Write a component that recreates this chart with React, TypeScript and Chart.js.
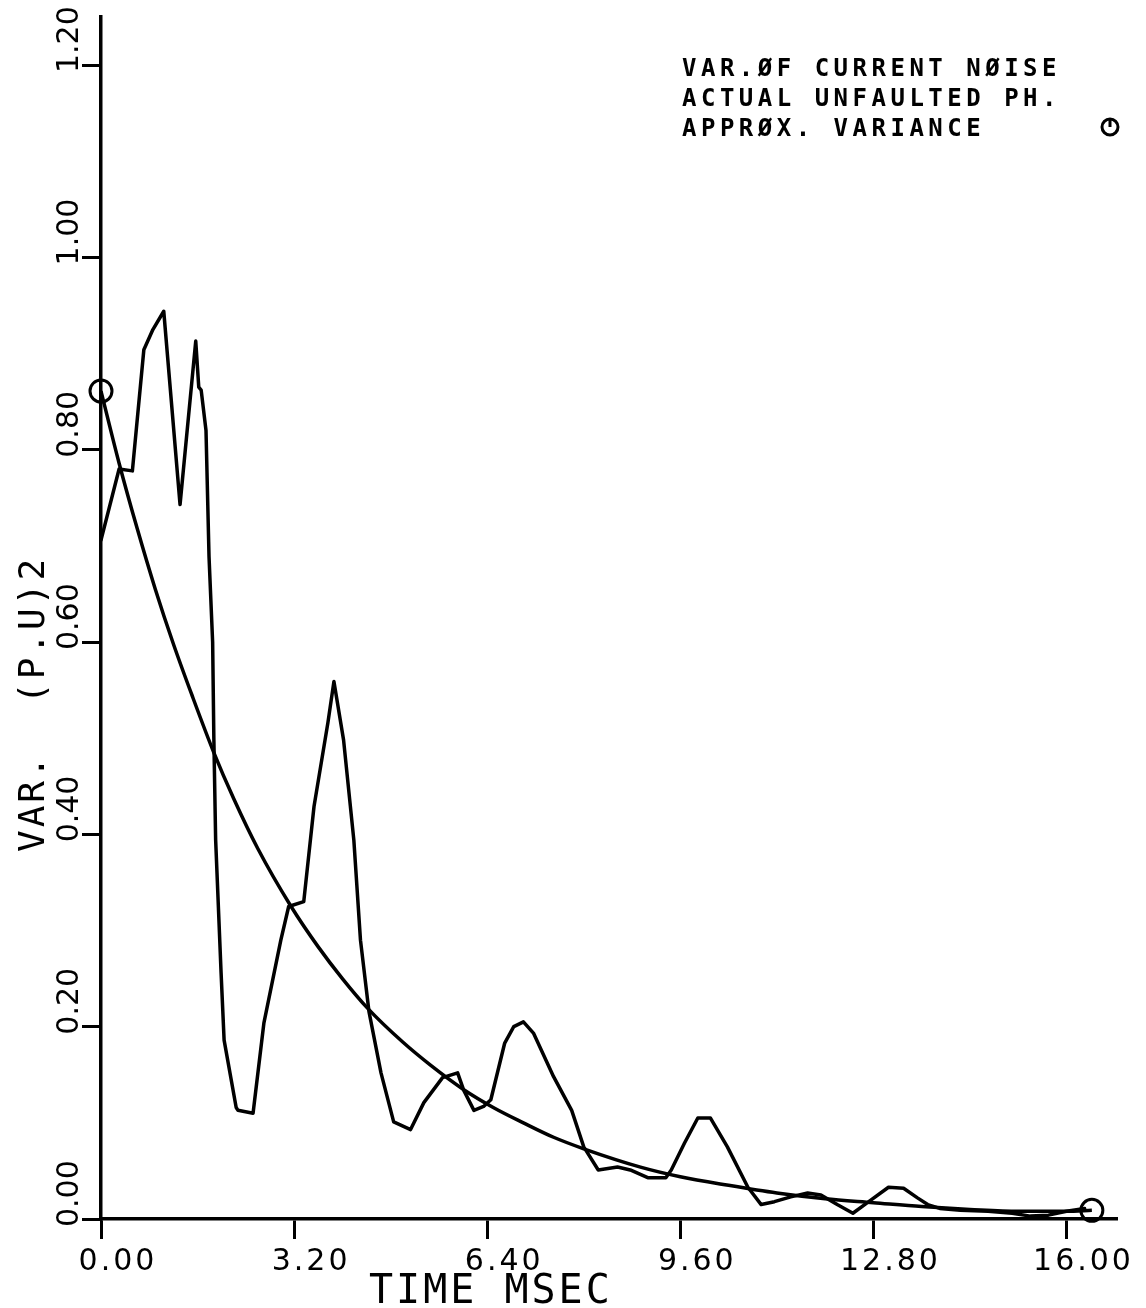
import React, { useEffect, useRef } from "react";
import { Chart, registerables } from "chart.js";

Chart.register(...registerables);

// ---- axis ticks ----
const xTickValues = [0, 3.2, 6.4, 9.6, 12.8, 16.0];
const xTickLabels = ["0.00", "3.20", "6.40", "9.60", "12.80", "16.00"];
const yTickValues = [0, 0.2, 0.4, 0.6, 0.8, 1.0, 1.2];
const yTickLabels = ["0.00", "0.20", "0.40", "0.60", "0.80", "1.00", "1.20"];

// ---- actual unfaulted phase (jagged curve) ----
const actualTime = [
  0.0, 0.3, 0.52, 0.71, 0.86, 1.04, 1.31, 1.57, 1.62, 1.66, 1.74, 1.79, 1.85, 1.87, 1.9,
  1.99, 2.04, 2.24, 2.27, 2.52, 2.7, 2.98, 3.11, 3.36, 3.53, 3.76, 3.86, 4.02, 4.19,
  4.3, 4.44, 4.64, 4.85, 5.13, 5.35, 5.66, 5.91, 6.01, 6.18, 6.34, 6.46, 6.69, 6.84,
  7.0, 7.17, 7.5, 7.8, 8.0, 8.24, 8.56, 8.77, 9.06, 9.36, 9.45, 9.67, 9.89, 10.1,
  10.38, 10.72, 10.94, 11.16, 11.43, 11.71, 11.93, 12.2, 12.46, 12.7, 13.05, 13.3,
  13.53, 13.7, 13.9, 14.24, 14.7, 15.1, 15.4, 15.7, 16.0, 16.3,
];
const actualVar = [
  0.706, 0.78, 0.778, 0.904, 0.925, 0.944, 0.743, 0.913, 0.865, 0.862, 0.82, 0.689, 0.6,
  0.5, 0.394, 0.256, 0.186, 0.116, 0.113, 0.11, 0.204, 0.29, 0.325, 0.33, 0.429, 0.516,
  0.559, 0.498, 0.394, 0.29, 0.216, 0.152, 0.101, 0.093, 0.121, 0.147, 0.152, 0.134,
  0.113, 0.117, 0.124, 0.183, 0.2, 0.205, 0.193, 0.148, 0.113, 0.075, 0.051, 0.054,
  0.051, 0.043, 0.043, 0.051, 0.079, 0.105, 0.105, 0.075, 0.033, 0.015, 0.018, 0.023,
  0.027, 0.025, 0.015, 0.006, 0.017, 0.033, 0.032, 0.022, 0.015, 0.011, 0.009, 0.008,
  0.006, 0.003, 0.004, 0.008, 0.011,
];

// ---- approximate variance (smooth curve) ----
const approxTime = [
  0.0, 0.3, 0.6, 0.9, 1.2, 1.5, 1.87, 2.2, 2.6, 3.15, 3.6, 4.0, 4.42, 5.0, 5.46, 6.0,
  6.5, 7.0, 7.5, 8.0, 8.94, 9.6, 10.4, 11.2, 12.0, 12.8, 13.6, 14.4, 15.2, 16.0, 16.42,
];
const approxVar = [
  0.861, 0.786, 0.718, 0.655, 0.598, 0.546, 0.485, 0.437, 0.385, 0.325, 0.283, 0.25,
  0.219, 0.184, 0.16, 0.135, 0.116, 0.1, 0.085, 0.073, 0.054, 0.044, 0.035, 0.027,
  0.021, 0.017, 0.013, 0.01, 0.008, 0.008, 0.009,
];

// ---- texts ----
const legendLines = ["VAR.ØF CURRENT NØISE", "ACTUAL UNFAULTED PH.", "APPRØX. VARIANCE"];
const xTitle = "TIME MSEC";
const yTitle = "VAR.  (P.U)2";

const textPlugin = {
  id: "plotterText",
  afterDraw(chart: any) {
    const ctx = chart.ctx as CanvasRenderingContext2D;
    const xs = chart.scales.x;
    const ys = chart.scales.y;
    ctx.save();
    ctx.fillStyle = "#000";
    ctx.strokeStyle = "#000";
    ctx.textBaseline = "alphabetic";

    // x tick labels
    ctx.font = '30px "DejaVu Sans"';
    (ctx as any).letterSpacing = "3px";
    ctx.textAlign = "center";
    xTickValues.forEach((v, i) => {
      ctx.fillText(xTickLabels[i], xs.getPixelForValue(v) + 17, ys.bottom + 51);
    });

    // y tick labels (rotated)
    (ctx as any).letterSpacing = "0px";
    ctx.textAlign = "left";
    yTickValues.forEach((v, i) => {
      const py = ys.getPixelForValue(v);
      ctx.save();
      ctx.translate(78, py + 8);
      ctx.rotate(-Math.PI / 2);
      ctx.fillText(yTickLabels[i], 0, 0);
      ctx.restore();
    });

    // y title
    ctx.font = '36px "DejaVu Sans Mono"';
    (ctx as any).letterSpacing = "3px";
    ctx.save();
    ctx.translate(44, 852);
    ctx.rotate(-Math.PI / 2);
    ctx.fillText(yTitle, 0, 0);
    ctx.restore();

    // x title
    ctx.font = '40px "DejaVu Sans Mono"';
    (ctx as any).letterSpacing = "3px";
    ctx.fillText(xTitle, 369, ys.bottom + 84);

    // legend block
    ctx.font = 'bold 24px "DejaVu Sans Mono"';
    (ctx as any).letterSpacing = "4.5px";
    legendLines.forEach((line, i) => {
      ctx.fillText(line, 682, 76 + i * 30);
    });
    // circle symbol
    ctx.lineWidth = 3;
    ctx.beginPath();
    ctx.arc(1110, 127, 8, 0, Math.PI * 2);
    ctx.stroke();
    ctx.beginPath();
    ctx.moveTo(1110, 119);
    ctx.lineTo(1110, 127);
    ctx.stroke();

    ctx.restore();
  },
};

export default function App() {
  const ref = useRef<HTMLCanvasElement | null>(null);

  useEffect(() => {
    if (!ref.current) return;
    const n = approxTime.length;
    const chart = new Chart(ref.current, {
      type: "line",
      data: {
        datasets: [
          {
            label: "ACTUAL UNFAULTED PH.",
            data: actualTime.map((t, i) => ({ x: t, y: actualVar[i] })),
            borderColor: "#000",
            borderWidth: 3.5,
            pointRadius: 0,
            fill: false,
            tension: 0,
            clip: false as any,
            borderJoinStyle: "round",
            borderCapStyle: "round",
          },
          {
            label: "APPROX. VARIANCE",
            data: approxTime.map((t, i) => ({ x: t, y: approxVar[i] })),
            borderColor: "#000",
            borderWidth: 3.5,
            pointRadius: approxTime.map((_, i) => (i === 0 || i === n - 1 ? 11 : 0)),
            pointBorderWidth: 3,
            pointBorderColor: "#000",
            pointBackgroundColor: "rgba(0,0,0,0)",
            pointStyle: "circle",
            fill: false,
            cubicInterpolationMode: "monotone",
            clip: false as any,
            borderJoinStyle: "round",
          },
        ],
      },
      options: {
        responsive: false,
        animation: false,
        layout: { padding: { left: 82, right: 30, top: 17, bottom: 69 } },
        plugins: {
          legend: { display: false },
          tooltip: { enabled: false },
        },
        scales: {
          x: {
            type: "linear",
            min: 0,
            max: 16.82,
            afterBuildTicks: (s: any) => {
              s.ticks = xTickValues.map((v) => ({ value: v }));
            },
            ticks: { display: false },
            grid: {
              drawOnChartArea: false,
              drawTicks: true,
              tickLength: 20,
              color: "#000",
              tickColor: "#000",
              lineWidth: 3,
              tickWidth: 3,
            },
            border: { display: true, color: "#000", width: 3.5 },
          },
          y: {
            type: "linear",
            min: 0,
            max: 1.25,
            afterBuildTicks: (s: any) => {
              s.ticks = yTickValues.map((v) => ({ value: v }));
            },
            ticks: { display: false },
            grid: {
              drawOnChartArea: false,
              drawTicks: true,
              tickLength: 19,
              color: "#000",
              tickColor: "#000",
              lineWidth: 3,
              tickWidth: 3,
            },
            border: { display: true, color: "#000", width: 3.5 },
          },
        },
      },
      plugins: [textPlugin],
    });
    return () => chart.destroy();
  }, []);

  return (
    <div
      style={{
        position: "fixed",
        left: 0,
        top: 0,
        width: 1146,
        height: 1308,
        background: "#fff",
      }}
    >
      <canvas ref={ref} width={1146} height={1308} style={{ display: "block" }} />
    </div>
  );
}
